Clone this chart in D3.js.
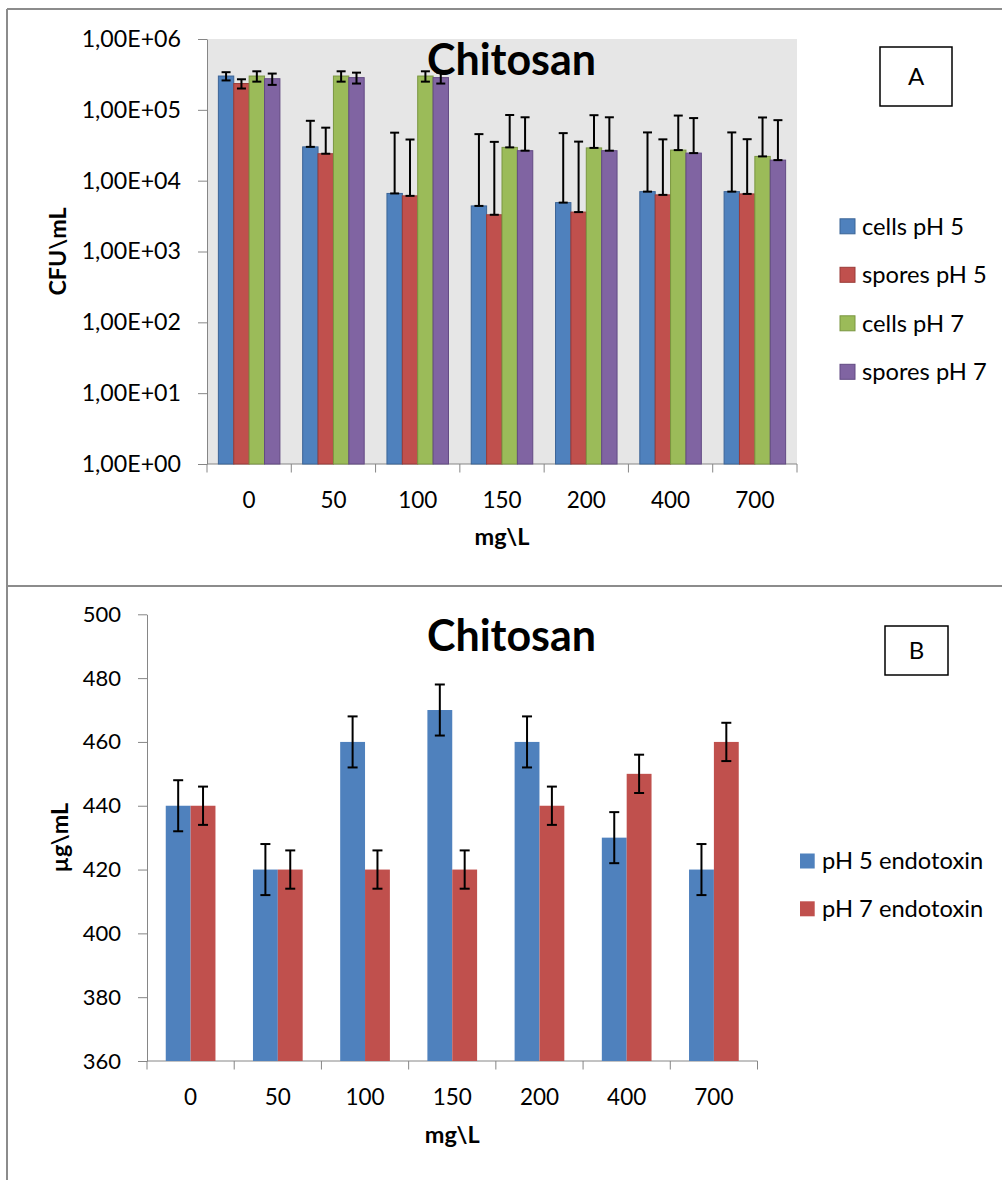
<!DOCTYPE html>
<html lang="en">
<head>
    <meta charset="UTF-8">
    <title>Chitosan</title>
    <script src="https://d3js.org/d3.v7.min.js"></script>
    <style>
        body { margin: 0; padding: 0; background: #fff; }
        text { font-family: Lato, "Open Sans", sans-serif; fill: #000; }
        .axis path, .axis line { stroke: #868686; }
        .frame { stroke: #8c8c8c; stroke-width: 2; fill: none; }
    </style>
</head>
<body>
<svg width="1002" height="1180"></svg>
<script>
    // categories (mg\L)
    const doses = ["0", "50", "100", "150", "200", "400", "700"];

    // panel A - CFU\mL
    const seriesA = ["cells pH 5", "spores pH 5", "cells pH 7", "spores pH 7"];
    const cellsPH5 = [3.0e5, 3.0e4, 6.6e3, 4.4e3, 4.9e3, 7.0e3, 7.0e3];
    const sporesPH5 = [2.35e5, 2.4e4, 6.1e3, 3.3e3, 3.6e3, 6.3e3, 6.5e3];
    const cellsPH7 = [3.0e5, 3.0e5, 3.0e5, 2.95e4, 2.9e4, 2.7e4, 2.2e4];
    const sporesPH7 = [2.75e5, 2.85e5, 2.85e5, 2.65e4, 2.65e4, 2.45e4, 1.95e4];
    const errCellsPH5 = [4e4, 4e4, 4.1e4, 4.1e4, 4.2e4, 4.1e4, 4.1e4];
    const errSporesPH5 = [3.5e4, 3.2e4, 3.2e4, 3.2e4, 3.2e4, 3.2e4, 3.2e4];
    const errCellsPH7 = [5e4, 5e4, 5e4, 5.5e4, 5.5e4, 5.6e4, 5.6e4];
    const errSporesPH7 = [5e4, 5e4, 5e4, 5.2e4, 5.2e4, 5.2e4, 5.2e4];
    const ticksA = [1, 10, 100, 1e3, 1e4, 1e5, 1e6];

    // panel B - endotoxin
    const seriesB = ["pH 5 endotoxin", "pH 7 endotoxin"];
    const endoPH5 = [440, 420, 460, 470, 460, 430, 420];
    const endoPH7 = [440, 420, 420, 420, 440, 450, 460];
    const errEndoPH5 = [8, 8, 8, 8, 8, 8, 8];
    const errEndoPH7 = [6, 6, 6, 6, 6, 6, 6];
    const ticksB = [360, 380, 400, 420, 440, 460, 480, 500];

    const fills = ["#4F81BD", "#C0504D", "#9BBB59", "#8064A2"];
    const strokes = ["#3B6496", "#9A3B38", "#7A9640", "#624A83"];

    const svg = d3.select("svg");

    // panel frames
    svg.append("line").attr("class", "frame").attr("x1", 7).attr("y1", 9).attr("x2", 1002).attr("y2", 9);
    svg.append("line").attr("class", "frame").attr("x1", 7).attr("y1", 586).attr("x2", 1002).attr("y2", 586);
    svg.append("line").attr("class", "frame").attr("x1", 7).attr("y1", 9).attr("x2", 7).attr("y2", 1180);

    function drawPanel(opt) {
        const g = svg.append("g");
        const x0 = d3.scaleBand().domain(doses).range([opt.left, opt.right])
            .paddingInner(opt.pad).paddingOuter(opt.pad / 2);
        const x1 = d3.scaleBand().domain(opt.names).range([0, x0.bandwidth()]);
        const y = opt.y;
        const base = y.range()[0];

        if (opt.bg) {
            g.append("rect").attr("x", opt.left).attr("y", y.range()[1])
                .attr("width", opt.right - opt.left).attr("height", base - y.range()[1])
                .attr("fill", opt.bg);
        }

        // y axis
        const ya = g.append("g").attr("class", "axis")
            .attr("transform", `translate(${opt.left},0)`)
            .call(d3.axisLeft(y).tickValues(opt.ticks).tickFormat(opt.fmt).tickSize(9).tickPadding(17).tickSizeOuter(0));
        ya.selectAll("text").style("font-size", opt.tickFont + "px");

        // x axis, labels centred, ticks between categories
        const xa = g.append("g").attr("class", "axis")
            .attr("transform", `translate(0,${base})`)
            .call(d3.axisBottom(x0).tickSize(0).tickPadding(28).tickSizeOuter(0));
        xa.selectAll("text").style("font-size", "22.5px");
        const edges = doses.map(d => x0(d) - x0.step() * x0.paddingInner() / 2).concat([opt.right]);
        xa.selectAll(".edge").data(edges).join("line").attr("class", "edge")
            .attr("x1", d => d).attr("x2", d => d).attr("y1", 0).attr("y2", 8.5);
        xa.select(".domain").attr("d", `M${opt.left},0H${opt.right}`);

        // bars
        const rows = doses.map((d, i) => ({
            dose: d,
            vals: opt.names.map((n, k) => ({ name: n, k: k, v: opt.values[k][i], e: opt.errors[k][i] }))
        }));
        const grp = g.selectAll(".grp").data(rows).join("g")
            .attr("transform", d => `translate(${x0(d.dose)},0)`);
        grp.selectAll("rect").data(d => d.vals).join("rect")
            .attr("x", d => x1(d.name))
            .attr("y", d => y(d.v))
            .attr("width", x1.bandwidth())
            .attr("height", d => base - y(d.v))
            .attr("fill", d => fills[d.k])
            .attr("stroke", d => opt.outline ? strokes[d.k] : "none")
            .attr("stroke-width", 1);

        // error bars (lower half dropped when it would go below zero on the log axis)
        const eb = grp.selectAll(".err").data(d => d.vals).join("g").attr("class", "err")
            .attr("stroke", "#000").attr("stroke-width", 2);
        const lo = d => (d.v - d.e > 0 ? y(d.v - d.e) : y(d.v));
        const cx = d => x1(d.name) + x1.bandwidth() / 2;
        eb.append("line").attr("x1", cx).attr("x2", cx)
            .attr("y1", d => y(d.v + d.e)).attr("y2", lo);
        eb.append("line").attr("x1", d => cx(d) - opt.cap).attr("x2", d => cx(d) + opt.cap)
            .attr("y1", d => y(d.v + d.e)).attr("y2", d => y(d.v + d.e));
        eb.append("line").attr("x1", d => cx(d) - opt.cap).attr("x2", d => cx(d) + opt.cap)
            .attr("y1", lo).attr("y2", lo);

        // titles
        g.append("text").attr("x", 511.5).attr("y", opt.titleY).attr("text-anchor", "middle")
            .style("font-size", "43px").style("font-weight", "bold").text("Chitosan");
        g.append("text").attr("x", (opt.left + opt.right) / 2).attr("y", opt.xTitleY).attr("text-anchor", "middle")
            .style("font-size", "23.5px").style("font-weight", "bold").text("mg\\L");
        const ymid = (y.range()[0] + y.range()[1]) / 2;
        g.append("text").attr("transform", `translate(${opt.yTitleX},${ymid}) rotate(-90)`)
            .attr("text-anchor", "middle").attr("dy", "0.35em")
            .style("font-size", "23.3px").style("font-weight", "bold").text(opt.yTitle);

        // legend
        const lg = g.selectAll(".leg").data(opt.names).join("g")
            .attr("transform", (d, i) => `translate(${opt.legX},${opt.legY + i * opt.legStep})`);
        lg.append("rect").attr("x", 0).attr("y", -7.5).attr("width", opt.legSq).attr("height", 15)
            .attr("fill", (d, i) => fills[i])
            .attr("stroke", (d, i) => opt.outline ? strokes[i] : "none");
        lg.append("text").attr("x", opt.legText).attr("dy", "0.35em").style("font-size", "23.7px").text(d => d);

        // panel letter box
        g.append("rect").attr("x", opt.box[0]).attr("y", opt.box[1]).attr("width", opt.box[2]).attr("height", opt.box[3])
            .attr("fill", "#fff").attr("stroke", "#000").attr("stroke-width", 1.5);
        g.append("text").attr("x", opt.box[0] + opt.box[2] / 2).attr("y", opt.box[1] + opt.box[3] / 2)
            .attr("dy", "0.35em").attr("text-anchor", "middle").style("font-size", "24px").text(opt.letter);
    }

    const sci = v => {
        const p = Math.round(Math.log10(v));
        return "1,00E+" + (p < 10 ? "0" + p : p);
    };

    drawPanel({
        names: seriesA,
        values: [cellsPH5, sporesPH5, cellsPH7, sporesPH7],
        errors: [errCellsPH5, errSporesPH5, errCellsPH7, errSporesPH7],
        left: 207, right: 797, pad: 0.27,
        y: d3.scaleLog().domain([1, 1e6]).range([464, 39]),
        ticks: ticksA, fmt: sci, tickFont: 23.2,
        bg: "#E6E6E6", outline: true, cap: 4.5,
        titleY: 75, xTitleY: 545, yTitle: "CFU\\mL", yTitleX: 58,
        legX: 840, legY: 226.3, legStep: 48.5, legSq: 15, legText: 22,
        box: [880, 47, 72, 59], letter: "A"
    });

    drawPanel({
        names: seriesB,
        values: [endoPH5, endoPH7],
        errors: [errEndoPH5, errEndoPH7],
        left: 147, right: 757.5, pad: 0.43,
        y: d3.scaleLinear().domain([360, 500]).range([1061, 614.3]),
        ticks: ticksB, fmt: d3.format("d"), tickFont: 22,
        bg: null, outline: false, cap: 5,
        titleY: 651, xTitleY: 1143, yTitle: "µg\\mL", yTitleX: 60,
        legX: 800, legY: 861, legStep: 47.8, legSq: 14.7, legText: 22,
        box: [885, 626, 63, 49], letter: "B"
    });
</script>
</body>
</html>
